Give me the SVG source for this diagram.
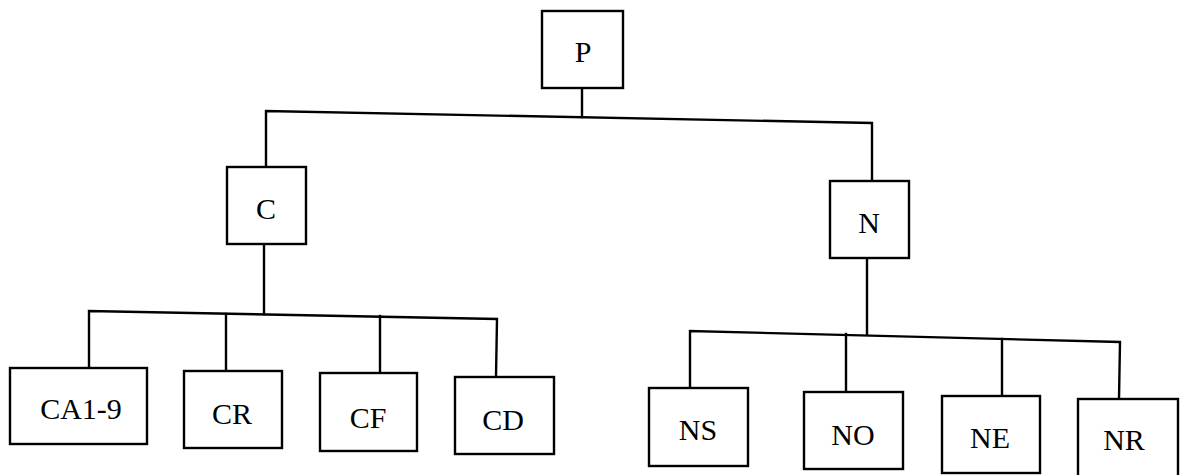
<svg xmlns="http://www.w3.org/2000/svg" width="1183" height="475" viewBox="0 0 1183 475">
<style>
.box{fill:#fff;stroke:#000;stroke-width:2.4}
.lbl{font-family:"Liberation Serif","Times New Roman","DejaVu Serif",serif;font-size:30px;fill:#000;text-anchor:middle}
.ln{fill:none;stroke:#000;stroke-width:2.4;stroke-linecap:square}
</style>
<rect width="1183" height="475" fill="#fff"/>
<g id="connectors">
<path class="ln" d="M582,88 L582,117"/>
<path class="ln" d="M266,167 L266,111 L872,123 L872,181"/>
<path class="ln" d="M264,244 L264,314"/>
<path class="ln" d="M89,367 L89,311 L497,319 L496,377"/>
<path class="ln" d="M226,314 L226,371"/>
<path class="ln" d="M380,316 L380,373"/>
<path class="ln" d="M867,258 L867,334"/>
<path class="ln" d="M690,388 L690,331 L1120,342 L1119,399"/>
<path class="ln" d="M846,334 L846,392"/>
<path class="ln" d="M1002,339 L1002,396"/>
</g>
<g id="node-P"><rect class="box" x="542" y="11" width="81" height="77"/><text class="lbl" x="583" y="62">P</text></g>
<g id="node-C"><rect class="box" x="227" y="167" width="79" height="77"/><text class="lbl" x="266" y="219">C</text></g>
<g id="node-N"><rect class="box" x="830" y="181" width="79" height="77"/><text class="lbl" x="869" y="233">N</text></g>
<g id="node-CA1-9"><rect class="box" x="10" y="368" width="137" height="76"/><text class="lbl" x="81" y="419">CA1-9</text></g>
<g id="node-CR"><rect class="box" x="184" y="371" width="98" height="77"/><text class="lbl" x="232" y="424">CR</text></g>
<g id="node-CF"><rect class="box" x="320" y="373" width="97" height="78"/><text class="lbl" x="368" y="428">CF</text></g>
<g id="node-CD"><rect class="box" x="455" y="377" width="99" height="77"/><text class="lbl" x="503" y="430">CD</text></g>
<g id="node-NS"><rect class="box" x="649" y="388" width="99" height="78"/><text class="lbl" x="698" y="440">NS</text></g>
<g id="node-NO"><rect class="box" x="804" y="392" width="99" height="77"/><text class="lbl" x="853" y="445">NO</text></g>
<g id="node-NE"><rect class="box" x="942" y="396" width="98" height="77"/><text class="lbl" x="990" y="448">NE</text></g>
<g id="node-NR"><rect class="box" x="1078" y="399" width="100" height="78"/><text class="lbl" x="1124" y="450">NR</text></g>
</svg>
